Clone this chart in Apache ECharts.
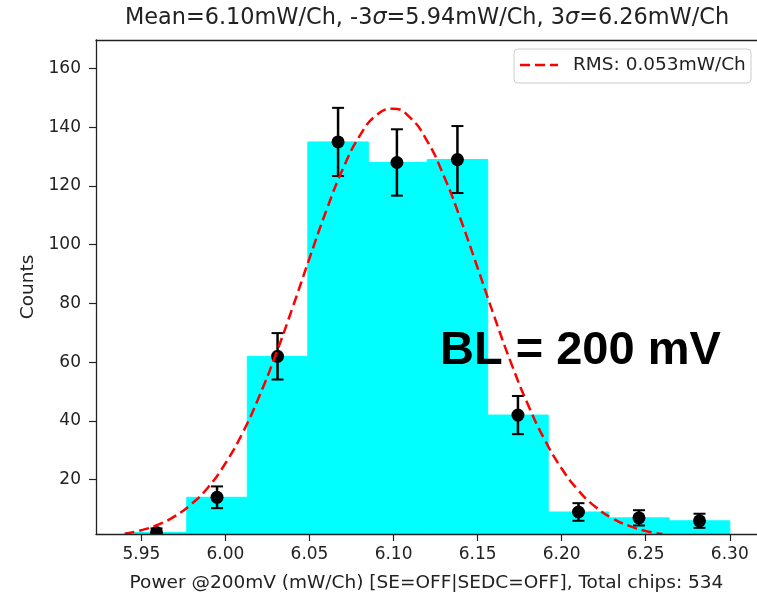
<!DOCTYPE html>
<html>
<head>
<meta charset="utf-8">
<script src="https://cdn.jsdelivr.net/npm/echarts@6/dist/echarts.min.js"></script>
<style>html,body{margin:0;padding:0;background:#fff;overflow:hidden;}#c{width:757px;height:598px;}</style>
</head>
<body>
<div id="c"></div>
<script>
// ---- data ----
const binEdges = [5.941, 5.977, 6.013, 6.049, 6.085, 6.120, 6.156, 6.192, 6.228, 6.264, 6.300];
const counts = [2, 14, 62, 135, 128, 129, 42, 9, 7, 6];
const binCenters = [5.959, 5.995, 6.031, 6.067, 6.102, 6.138, 6.174, 6.210, 6.246, 6.282];
const errors = [1.4, 3.7, 7.9, 11.6, 11.3, 11.4, 6.5, 3.0, 2.6, 2.4];
const fitX = [5.94, 5.95, 5.96, 5.97, 5.98, 5.99, 6.00, 6.01, 6.02, 6.03, 6.04, 6.05, 6.06, 6.07, 6.08, 6.09, 6.10,
              6.11, 6.12, 6.13, 6.14, 6.15, 6.16, 6.17, 6.18, 6.19, 6.20, 6.21, 6.22, 6.23, 6.24, 6.25, 6.26];
const fitY = [1.6, 2.8, 4.7, 7.6, 11.8, 17.6, 25.6, 35.7, 48.2, 62.7, 78.7, 95.4, 111.6, 126.0, 137.2, 144.2, 146.3,
              143.2, 135.3, 123.3, 108.5, 92.1, 75.4, 59.6, 45.5, 33.5, 23.8, 16.3, 10.8, 6.9, 4.3, 2.5, 1.5];
const xTicks = [5.95, 6.00, 6.05, 6.10, 6.15, 6.20, 6.25, 6.30];
const yTicks = [20, 40, 60, 80, 100, 120, 140, 160];
const titleText = 'Mean=6.10mW/Ch, -3{i|σ}=5.94mW/Ch, 3{i|σ}=6.26mW/Ch';
const xName = 'Power @200mV (mW/Ch) [SE=OFF|SEDC=OFF], Total chips: 534';
const yName = 'Counts';
const legendName = 'RMS: 0.053mW/Ch';
const bigNote = 'BL = 200 mV';

const FONT = 'DejaVu Sans';
const TXT = '#222';
const X_MIN = 5.923, X_MAX = 6.3162, Y_MIN = 1.5, Y_MAX = 169.7;

const barData = counts.map((c, i) => [binEdges[i], binEdges[i + 1], c]);
const errData = counts.map((c, i) => [binCenters[i], c, errors[i]]);
const fitData = fitX.map((x, i) => [x, fitY[i]]);

const chart = echarts.init(document.getElementById('c'), null, {renderer: 'canvas'});
const axisCommon = {
  axisLine: {show: true, lineStyle: {color: '#222', width: 1.3}},
  axisTick: {show: true, inside: false, length: 7, lineStyle: {color: '#222', width: 1.2}},
  splitLine: {show: false},
  z: 10
};
chart.setOption({
  animation: false,
  grid: {left: 96, top: 40, width: 664, height: 497.3, show: false},
  xAxis: [
    Object.assign({}, axisCommon, {
      type: 'value', min: X_MIN, max: X_MAX, position: 'bottom',
      axisTick: Object.assign({}, axisCommon.axisTick, {customValues: xTicks}),
      axisLabel: {customValues: xTicks, formatter: v => v.toFixed(2), fontFamily: FONT, fontSize: 17, color: TXT, margin: 12},
      name: xName, nameLocation: 'middle', nameGap: 40,
      nameTextStyle: {fontFamily: FONT, fontSize: 18.5, color: TXT}
    }),
    {
      type: 'value', min: X_MIN, max: X_MAX, position: 'top', z: 10,
      axisLine: {show: true, lineStyle: {color: '#222', width: 1.3}},
      axisTick: {show: false}, axisLabel: {show: false}, splitLine: {show: false}
    }
  ],
  yAxis: Object.assign({}, axisCommon, {
    type: 'value', min: Y_MIN, max: Y_MAX,
    axisTick: Object.assign({}, axisCommon.axisTick, {customValues: yTicks}),
    axisLabel: {customValues: yTicks, fontFamily: FONT, fontSize: 17, color: TXT, margin: 15},
    name: yName, nameLocation: 'middle', nameGap: 58, nameRotate: 90,
    nameTextStyle: {fontFamily: FONT, fontSize: 18.5, color: TXT}
  }),
  series: [
    {
      type: 'custom', name: 'hist', clip: true, z: 1,
      data: barData,
      encode: {x: [0, 1], y: 2},
      renderItem: function (params, api) {
        const p0 = api.coord([api.value(0), api.value(2)]);
        const p1 = api.coord([api.value(1), 0]);
        return {type: 'rect', shape: {x: p0[0], y: p0[1], width: p1[0] - p0[0], height: p1[1] - p0[1]},
                style: {fill: '#00ffff', stroke: '#00ffff', lineWidth: 1}};
      }
    },
    {
      type: 'custom', name: 'err', clip: true, z: 3,
      data: errData,
      encode: {x: 0, y: 1},
      renderItem: function (params, api) {
        const x = api.value(0), y = api.value(1), e = api.value(2);
        const c = api.coord([x, y]);
        const t = api.coord([x, y + e]);
        const b = api.coord([x, y - e]);
        const w = 6;
        return {type: 'group', children: [
          {type: 'line', shape: {x1: c[0], y1: t[1], x2: c[0], y2: b[1]}, style: {stroke: '#000', lineWidth: 2.5}},
          {type: 'line', shape: {x1: c[0] - w, y1: t[1], x2: c[0] + w, y2: t[1]}, style: {stroke: '#000', lineWidth: 2}},
          {type: 'line', shape: {x1: c[0] - w, y1: b[1], x2: c[0] + w, y2: b[1]}, style: {stroke: '#000', lineWidth: 2}},
          {type: 'circle', shape: {cx: c[0], cy: c[1], r: 6.5}, style: {fill: '#000'}}
        ]};
      }
    },
    {
      type: 'line', name: legendName, data: fitData, smooth: true, showSymbol: false, z: 4,
      lineStyle: {color: '#ff0000', width: 2.5, type: [10, 5]}
    }
  ],
  graphic: [
    {type: 'text', x: 427, y: 18.5, z: 20,
     style: {text: titleText, fontFamily: FONT, fontSize: 22.4, fill: TXT, align: 'center', verticalAlign: 'middle',
             rich: {i: {fontFamily: FONT, fontSize: 22.4, fontStyle: 'italic', fill: TXT}}}},
    {type: 'rect', x: 514, y: 49, z: 20,
     shape: {width: 237, height: 34, r: 4},
     style: {fill: 'rgba(255,255,255,0.8)', stroke: '#cccccc', lineWidth: 1}},
    {type: 'line', z: 21, shape: {x1: 520, y1: 65, x2: 558, y2: 65},
     style: {stroke: '#ff0000', lineWidth: 2.5, lineDash: [10, 5]}},
    {type: 'text', x: 573, y: 65.5, z: 21,
     style: {text: legendName, fontFamily: FONT, fontSize: 18.5, fill: TXT, align: 'left', verticalAlign: 'middle'}},
    {type: 'text', x: 440, y: 375, z: 22,
     style: {text: bigNote, fontFamily: 'Liberation Sans', fontWeight: 'bold', fontSize: 47, fill: '#000',
             align: 'left', verticalAlign: 'bottom'}}
  ]
});
</script>
</body>
</html>
